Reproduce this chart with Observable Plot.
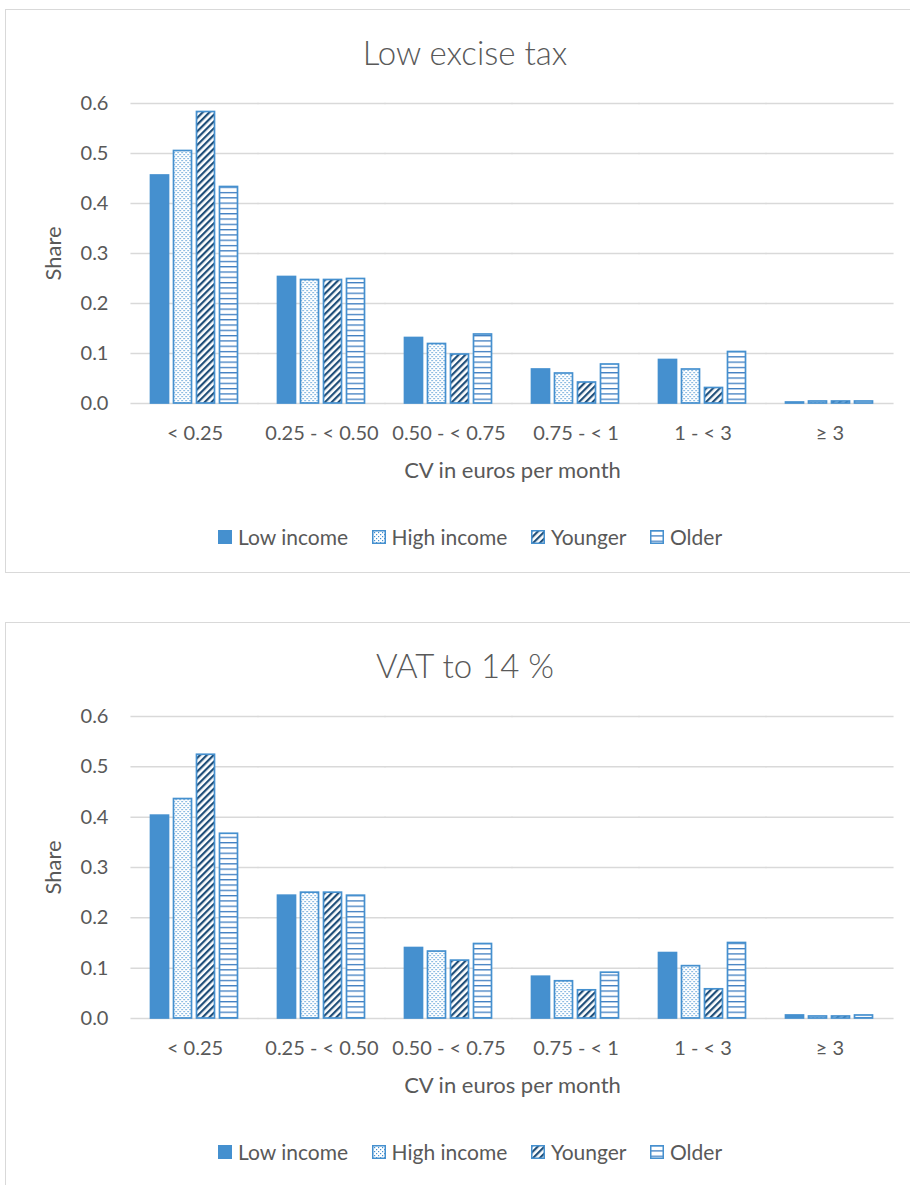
<!DOCTYPE html>
<html>
<head>
<meta charset="utf-8">
<script src="https://cdn.jsdelivr.net/npm/d3@7"></script>
<script src="https://cdn.jsdelivr.net/npm/@observablehq/plot@0.6"></script>
<style>
  html, body { margin: 0; padding: 0; background: #fff; }
  body { width: 910px; height: 1185px; overflow: hidden; position: relative; font-family: Lato, "Open Sans", sans-serif; color: #595959; }
  .panel { position: absolute; left: 5px; width: 922px; border: 1.5px solid #d9d9d9; box-sizing: border-box; }
  .title { position: absolute; left: 5px; width: 920px; text-align: center; font-size: 33px; font-weight: 300; line-height: 36px; color: #595959; }
  .plot { position: absolute; left: 0; }
  .legend { position: absolute; left: 218px; display: flex; align-items: center; font-size: 21px; line-height: 26px; white-space: nowrap; }
  .legend .item { display: flex; align-items: center; margin-right: 23.5px; }
  .legend svg { margin-right: 6px; }
</style>
</head>
<body>
<svg width="0" height="0" style="position:absolute">
  <defs>
    <pattern id="dots" patternUnits="userSpaceOnUse" width="4" height="4">
      <rect width="4" height="4" fill="#fff"/>
      <rect x="0" y="0" width="1.2" height="1.2" fill="#4590CF"/>
      <rect x="2" y="2" width="1.2" height="1.2" fill="#4590CF"/>
    </pattern>
    <pattern id="hatch" patternUnits="userSpaceOnUse" width="4.8" height="4.8" patternTransform="rotate(45)">
      <rect width="4.8" height="4.8" fill="#fff"/>
      <rect width="2.2" height="4.8" fill="#1F4E79"/>
    </pattern>
    <pattern id="hlines" patternUnits="userSpaceOnUse" width="5" height="5.3">
      <rect width="5" height="5.3" fill="#fff"/>
      <rect y="0" width="5" height="1.3" fill="#3D7CC0"/>
    </pattern>
  </defs>
</svg>
<div id="root"></div>
<script>
// ---- data ----
const categories = ["< 0.25", "0.25 - < 0.50", "0.50 - < 0.75", "0.75 - < 1", "1 - < 3", "≥ 3"];
const groups = ["Low income", "High income", "Younger", "Older"];
const yTicks = [0, 0.1, 0.2, 0.3, 0.4, 0.5, 0.6];

// Low excise tax
const exciseLowIncome  = [0.456, 0.253, 0.131, 0.068, 0.087, 0.002];
const exciseHighIncome = [0.505, 0.247, 0.119, 0.060, 0.068, 0.004];
const exciseYounger    = [0.583, 0.247, 0.098, 0.042, 0.031, 0.004];
const exciseOlder      = [0.433, 0.249, 0.138, 0.078, 0.103, 0.004];

// VAT to 14 %
const vatLowIncome  = [0.403, 0.244, 0.140, 0.083, 0.130, 0.006];
const vatHighIncome = [0.436, 0.250, 0.133, 0.074, 0.104, 0.004];
const vatYounger    = [0.524, 0.250, 0.115, 0.056, 0.058, 0.004];
const vatOlder      = [0.367, 0.244, 0.148, 0.091, 0.150, 0.006];

const yLabel = "Share";
const xLabel = "CV in euros per month";

const blue = "#4590CF";
const fills = [blue, "url(#dots)", "url(#hatch)", "url(#hlines)"];

function rowsOf(series) {
  const rows = [];
  categories.forEach((c, i) => {
    groups.forEach((g, j) => rows.push({category: c, group: g, value: series[j][i]}));
  });
  return rows;
}

const fxPadInner = 0.3, fxPadOuter = 0.15;

function panel(top, panelHeight, title, series, plotHeight, legendShift) {
  const p = document.createElement("div");
  p.className = "panel";
  p.style.top = top + "px";
  p.style.height = panelHeight + "px";
  document.body.appendChild(p);

  const t = document.createElement("div");
  t.className = "title";
  t.style.top = (top + 25) + "px";
  t.textContent = title;
  document.body.appendChild(t);

  const width = 910, marginLeft = 130.5, marginRight = 17.5;
  const step = (width - marginLeft - marginRight) / (categories.length - fxPadInner + 2 * fxPadOuter);
  const outer = step * fxPadOuter;           // distance from frame edge to first facet
  const ext = -(step * fxPadInner / 2 + 0.5);

  const chart = Plot.plot({
    width,
    height: plotHeight,
    marginLeft,
    marginRight,
    marginTop: 33,
    marginBottom: 87,
    style: {fontFamily: "Lato, 'Open Sans', sans-serif", fontSize: "20px", color: "#595959", background: "transparent", overflow: "visible"},
    fx: {domain: categories, paddingInner: fxPadInner, paddingOuter: fxPadOuter},
    x: {domain: groups, paddingInner: 0.2, paddingOuter: 0, axis: null},
    y: {domain: [0, 0.6]},
    color: {domain: groups, range: fills},
    marks: [
      Plot.ruleY(yTicks, {stroke: "#d9d9d9", strokeWidth: 1.5, insetLeft: ext, insetRight: ext}),
      Plot.barY(rowsOf(series), {fx: "category", x: "group", y: "value", fill: "group", stroke: blue, strokeWidth: 1.7}),
      Plot.axisY({ticks: yTicks, tickFormat: ".1f", tickSize: 0, tickPadding: outer + 23, label: yLabel, labelArrow: "none", labelAnchor: "center", labelOffset: outer + 86, fontSize: 20}),
      Plot.axisFx({anchor: "bottom", tickSize: 0, tickPadding: 22, label: xLabel, labelArrow: "none", labelAnchor: "center", labelOffset: 74, fontSize: 20})
    ]
  });
  // enlarge the axis titles (Excel draws them larger than tick labels)
  chart.querySelectorAll("text").forEach(el => {
    if (el.textContent === yLabel || el.textContent === xLabel) el.style.fontSize = "22px";
  });
  chart.classList.add("plot");
  chart.style.top = (top + 61) + "px";
  document.body.appendChild(chart);

  const lg = document.createElement("div");
  lg.className = "legend";
  lg.style.top = (top + 515 + legendShift) + "px";
  groups.forEach((g, j) => {
    const it = document.createElement("div");
    it.className = "item";
    it.innerHTML = `<svg width="14" height="14"><rect x="0.75" y="0.75" width="12.5" height="12.5" fill="${fills[j]}" stroke="${blue}" stroke-width="1.5"/></svg><span>${g}</span>`;
    lg.appendChild(it);
  });
  document.body.appendChild(lg);
}

panel(9, 564, "Low excise tax", [exciseLowIncome, exciseHighIncome, exciseYounger, exciseOlder], 420, 0);
panel(622, 600, "VAT to 14 %", [vatLowIncome, vatHighIncome, vatYounger, vatOlder], 422, 2);
</script>
</body>
</html>
